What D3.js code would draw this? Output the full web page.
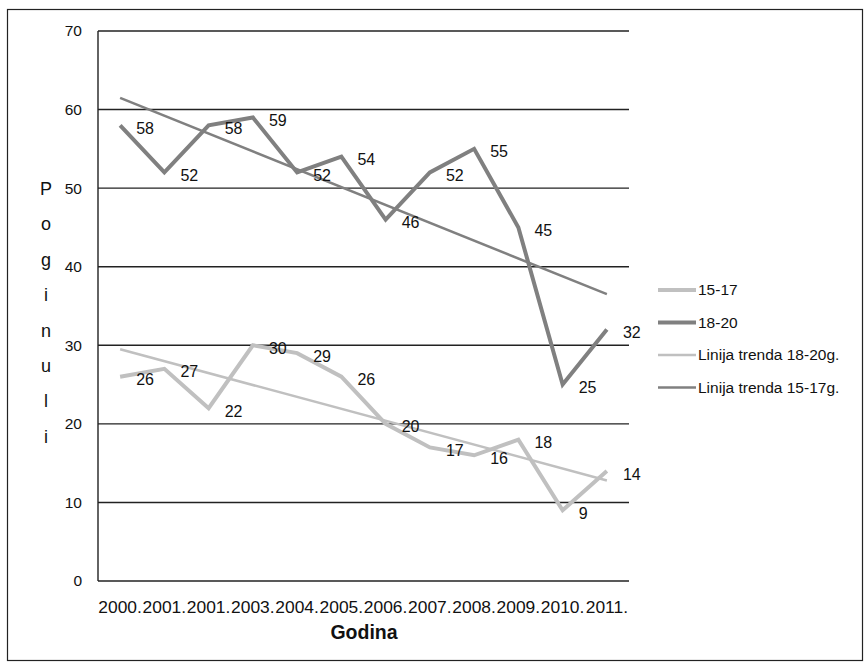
<!DOCTYPE html>
<html>
<head>
<meta charset="utf-8">
<script src="https://cdn.jsdelivr.net/npm/d3@7"></script>
<style>
  body { margin: 0; background: #fff; }
  text { font-family: "Liberation Sans", Arial, sans-serif; fill: #111; }
</style>
</head>
<body>
<svg id="chart" width="865" height="664"></svg>
<script>
// data
var years = ['2000.', '2001.', '2001.', '2003.', '2004.', '2005.', '2006.', '2007.', '2008.', '2009.', '2010.', '2011.'];
var s1517 = [26, 27, 22, 30, 29, 26, 20, 17, 16, 18, 9, 14];
var s1820 = [58, 52, 58, 59, 52, 54, 46, 52, 55, 45, 25, 32];
// trend line end points (first and last year)
var trendLight = [29.5, 12.8];
var trendDark = [61.5, 36.5];
var yTicks = [0, 10, 20, 30, 40, 50, 60, 70];
var yTitle = 'Poginuli';
var legendItems = [
    {name: '15-17', color: '#c0c0c0', w: 4},
    {name: '18-20', color: '#808080', w: 4},
    {name: 'Linija trenda 18-20g.', color: '#c0c0c0', w: 2.5},
    {name: 'Linija trenda 15-17g.', color: '#808080', w: 2.5}
];

var svg = d3.select('#chart');

// outer frame
svg.append('rect')
    .attr('x', 7.5).attr('y', 9.5)
    .attr('width', 855).attr('height', 651)
    .attr('fill', 'none')
    .attr('stroke', '#222')
    .attr('stroke-width', 1.2);

var x = d3.scaleBand()
    .domain(d3.range(years.length))
    .range([98, 629]);

var y = d3.scaleLinear()
    .domain([0, 70])
    .range([581, 31]);

var cx = function(i) { return x(i) + x.bandwidth() / 2; };

// gridlines
svg.append('g').selectAll('line')
    .data(yTicks)
    .enter()
    .append('line')
    .attr('x1', 98).attr('x2', 629)
    .attr('y1', d => y(d)).attr('y2', d => y(d))
    .attr('stroke', '#222')
    .attr('stroke-width', 1.4);

// left axis line
svg.append('line')
    .attr('x1', 98).attr('x2', 98)
    .attr('y1', y(70)).attr('y2', y(0))
    .attr('stroke', '#222')
    .attr('stroke-width', 1.4);

// y tick labels
svg.append('g').selectAll('text')
    .data(yTicks)
    .enter()
    .append('text')
    .attr('x', 82)
    .attr('y', d => y(d))
    .attr('dy', '0.35em')
    .attr('text-anchor', 'end')
    .style('font-size', '15.5px')
    .text(d => d);

// x tick labels
svg.append('g').selectAll('text')
    .data(years)
    .enter()
    .append('text')
    .attr('x', (d, i) => cx(i))
    .attr('y', 613)
    .attr('text-anchor', 'middle')
    .style('font-size', '17.4px')
    .text(d => d);

// axis titles
svg.append('text')
    .attr('x', 364)
    .attr('y', 639)
    .attr('text-anchor', 'middle')
    .style('font-size', '19.5px')
    .style('font-weight', 'bold')
    .text('Godina');

svg.append('g').selectAll('text')
    .data(yTitle.split(''))
    .enter()
    .append('text')
    .attr('x', 46)
    .attr('y', (d, i) => 195 + i * 35.4)
    .attr('text-anchor', 'middle')
    .style('font-size', '18px')
    .text(d => d);

var line = d3.line()
    .x((d, i) => cx(i))
    .y(d => y(d));

// series
svg.append('path')
    .datum(s1517)
    .attr('d', line)
    .attr('fill', 'none')
    .attr('stroke', '#c0c0c0')
    .attr('stroke-width', 4);

svg.append('path')
    .datum(s1820)
    .attr('d', line)
    .attr('fill', 'none')
    .attr('stroke', '#808080')
    .attr('stroke-width', 4);

// trend lines
var trendLine = d3.line()
    .x((d, i) => cx(i * (years.length - 1)))
    .y(d => y(d));

svg.append('path')
    .datum(trendLight)
    .attr('d', trendLine)
    .attr('fill', 'none')
    .attr('stroke', '#c0c0c0')
    .attr('stroke-width', 2.5);

svg.append('path')
    .datum(trendDark)
    .attr('d', trendLine)
    .attr('fill', 'none')
    .attr('stroke', '#808080')
    .attr('stroke-width', 2.5);

// value labels
[s1517, s1820].forEach(function(series) {
    svg.append('g').selectAll('text')
        .data(series)
        .enter()
        .append('text')
        .attr('x', (d, i) => cx(i) + 16)
        .attr('y', d => y(d) + 8.5)
        .style('font-size', '16px')
        .text(d => d);
});

// legend
var lg = svg.append('g').selectAll('g')
    .data(legendItems)
    .enter()
    .append('g')
    .attr('transform', (d, i) => 'translate(658,' + (290 + i * 32.5) + ')');

lg.append('line')
    .attr('x1', 0).attr('x2', 38)
    .attr('stroke', d => d.color)
    .attr('stroke-width', d => d.w);

lg.append('text')
    .attr('x', 40)
    .attr('dy', '0.35em')
    .style('font-size', '15.5px')
    .text(d => d.name);
</script>
</body>
</html>
